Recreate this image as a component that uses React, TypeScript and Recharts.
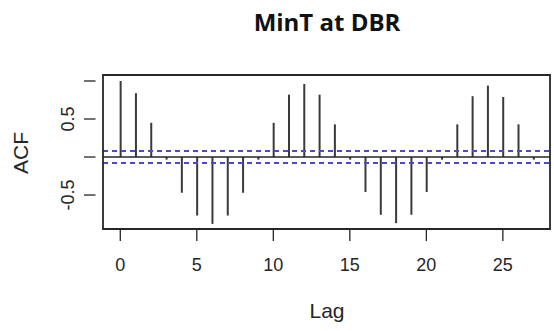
import {
  Bar,
  ComposedChart,
  ReferenceLine,
  XAxis,
  YAxis,
} from "recharts";

// ACF values, lag 0..27
const lags = [
  0, 1, 2, 3, 4, 5, 6, 7, 8, 9, 10, 11, 12, 13, 14, 15, 16, 17, 18, 19, 20, 21,
  22, 23, 24, 25, 26, 27,
];
const acf = [
  1.0, 0.84, 0.45, -0.035, -0.47, -0.77, -0.88, -0.77, -0.47, -0.035, 0.45, 0.82,
  0.96, 0.82, 0.43, -0.035, -0.46, -0.76, -0.87, -0.76, -0.46, -0.035, 0.43, 0.8,
  0.94, 0.79, 0.43, -0.035,
];
const xTicks = [0, 5, 10, 15, 20, 25];
const yTicks = [-0.5, 0, 0.5, 1];
const yLabels = ["-0.5", "", "0.5", ""];
const ciBound = 0.079;

const X_DOMAIN: [number, number] = [-1.13, 28.08];
const Y_DOMAIN: [number, number] = [-0.947, 1.079];

// plot box (matches chart margins / axis sizes below)
const BOX = { left: 103, top: 75, right: 550, bottom: 229 };

const AXIS_FONT = "'Liberation Sans', Arial, sans-serif";
const INK = "#262626";

const data = lags.map((lag, i) => ({ lag, acf: acf[i] }));

function YTick(props: any) {
  const { x, y, payload } = props;
  const idx = yTicks.indexOf(payload.value);
  const label = idx >= 0 ? yLabels[idx] : "";
  const cx = 68;
  return (
    <g>
      <line x1={x - 11} x2={x + 0.5} y1={y} y2={y} stroke={INK} strokeWidth={1.3} />
      {label && (
        <text
          x={cx}
          y={y}
          transform={`rotate(-90 ${cx} ${y})`}
          textAnchor="middle"
          dominantBaseline="central"
          fontSize={18}
          fontFamily={AXIS_FONT}
          fill={INK}
        >
          {label}
        </text>
      )}
    </g>
  );
}

function XTick(props: any) {
  const { x, payload } = props;
  return (
    <g>
      <line x1={x} x2={x} y1={BOX.bottom} y2={BOX.bottom + 12} stroke={INK} strokeWidth={1.3} />
      <text
        x={x}
        y={265}
        textAnchor="middle"
        dominantBaseline="central"
        fontSize={18}
        fontFamily={AXIS_FONT}
        fill={INK}
      >
        {payload.value}
      </text>
    </g>
  );
}

export default function App() {
  const { left, top, right, bottom } = BOX;
  return (
    <div
      style={{
        position: "fixed",
        left: 0,
        top: 0,
        width: 554,
        height: 331,
        background: "#fff",
        overflow: "hidden",
      }}
    >
      <ComposedChart
        width={554}
        height={331}
        data={data}
        margin={{ top, right: 554 - right, bottom: 0, left: 0 }}
      >
        <XAxis
          dataKey="lag"
          type="number"
          domain={X_DOMAIN}
          allowDataOverflow
          ticks={xTicks}
          interval={0}
          axisLine={false}
          tickLine={false}
          height={331 - bottom}
          tick={<XTick />}
        />
        <YAxis
          type="number"
          domain={Y_DOMAIN}
          allowDataOverflow
          ticks={yTicks}
          interval={0}
          axisLine={false}
          tickLine={false}
          width={left}
          tick={<YTick />}
        />
        <ReferenceLine y={0} stroke={INK} strokeWidth={1.3} />
        <Bar dataKey="acf" barSize={2} fill="#3a3a3a" isAnimationActive={false} />
        <ReferenceLine
          y={ciBound}
          stroke="#4b4bc4"
          strokeWidth={2}
          strokeDasharray="5 4"
        />
        <ReferenceLine
          y={-ciBound}
          stroke="#4b4bc4"
          strokeWidth={2}
          strokeDasharray="5 4"
        />
      </ComposedChart>
      <svg
        width={554}
        height={331}
        style={{ position: "absolute", left: 0, top: 0, pointerEvents: "none" }}
      >
        <text
          x={327}
          y={21}
          textAnchor="middle"
          dominantBaseline="central"
          fontSize={24}
          fontWeight={700}
          fontFamily="'Open Sans', sans-serif"
          fill="#111"
        >
          MinT at DBR
        </text>
        <text
          x={20}
          y={153}
          transform="rotate(-90 20 153)"
          textAnchor="middle"
          dominantBaseline="central"
          fontSize={21}
          fontFamily={AXIS_FONT}
          fill={INK}
        >
          ACF
        </text>
        <text
          x={327}
          y={310}
          textAnchor="middle"
          dominantBaseline="central"
          fontSize={21}
          fontFamily={AXIS_FONT}
          fill={INK}
        >
          Lag
        </text>
        <path
          d={`M${left},${top}H${right}V${bottom}H${left}Z`}
          fill="none"
          stroke={INK}
          strokeWidth={1.8}
        />
      </svg>
    </div>
  );
}
